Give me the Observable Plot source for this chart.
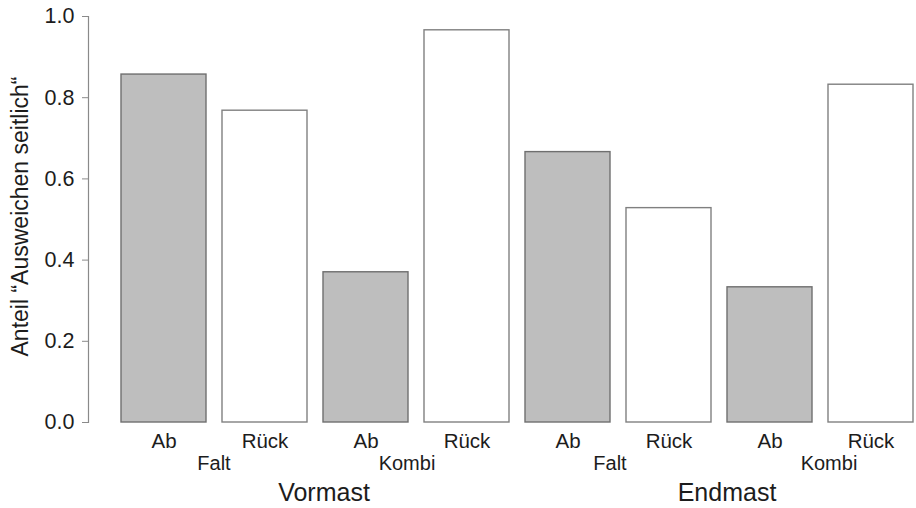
<!DOCTYPE html>
<html><head><meta charset="utf-8">
<script src="https://cdn.jsdelivr.net/npm/d3@7"></script>
<script src="https://cdn.jsdelivr.net/npm/@observablehq/plot@0.6"></script>
<style>
body{margin:0;background:#fff;}
#chart svg{font-family:"Liberation Sans",Arial,Helvetica,sans-serif;}
</style>
</head><body><div id="chart"></div>
<script>
const phases = ["Vormast","Vormast","Vormast","Vormast","Endmast","Endmast","Endmast","Endmast"];
const variants = ["Falt","Falt","Kombi","Kombi","Falt","Falt","Kombi","Kombi"];
const directions = ["Ab","Rück","Ab","Rück","Ab","Rück","Ab","Rück"];
const values = [0.857, 0.768, 0.370, 0.966, 0.666, 0.528, 0.333, 0.832];
const yTicks = [0, 0.2, 0.4, 0.6, 0.8, 1.0];
const yTitle = "Anteil “Ausweichen seitlich“";

const ids = values.map((_, i) => `${phases[i]} ${variants[i]} ${directions[i]}`);
const data = values.map((v, i) => ({id: ids[i], phase: phases[i], variant: variants[i], dir: directions[i], value: v}));
const dirOf = new Map(data.map(d => [d.id, d.dir]));

const ink = "#1c1c1c";
const font = "Liberation Sans, Arial, sans-serif";

function label(text, anchorIndex, dx, dy, size) {
  return Plot.text([text], {x: [ids[anchorIndex]], text: d => d, frameAnchor: "bottom", dx, dy, fontSize: size, fill: ink});
}

const chart = Plot.plot({
  width: 916,
  height: 508,
  marginLeft: 88,
  marginRight: 3,
  marginTop: 16,
  marginBottom: 86,
  style: {fontFamily: font, background: "#fff", color: ink},
  x: {domain: ids, paddingInner: 0.161, paddingOuter: 0, insetLeft: 32, label: null},
  y: {domain: [0, 1], label: null},
  marks: [
    Plot.barY(data.filter(d => d.dir === "Ab"), {x: "id", y: "value", fill: "#bebebe", stroke: "#6f6f6f", strokeWidth: 1.4}),
    Plot.barY(data.filter(d => d.dir === "Rück"), {x: "id", y: "value", fill: "#ffffff", stroke: "#808080", strokeWidth: 1.4}),
    Plot.frame({anchor: "left", stroke: "#8a8a8a", strokeWidth: 1.2}),
    Plot.axisY({ticks: yTicks, tickFormat: d3.format(".1f"), tickSize: 6, tickPadding: 8, fontSize: 21.5, stroke: "#8a8a8a", fill: ink, label: null}),
    Plot.axisX({tickSize: 0, tickPadding: 11, fontSize: 20.5, fill: ink, tickFormat: d => dirOf.get(d), label: null}),
    label("Falt", 1, -51, 47, 20),
    label("Kombi", 3, -60, 47, 20),
    label("Falt", 5, -59, 47, 20),
    label("Kombi", 7, -42, 47, 20),
    label("Vormast", 2, -42, 78, 25),
    label("Endmast", 6, -43, 78, 25),
    Plot.text([yTitle], {frameAnchor: "left", textAnchor: "middle", rotate: -90, dx: -68, dy: -3, fontSize: 23, fill: ink, text: d => d})
  ]
});
document.getElementById("chart").appendChild(chart);
</script>
</body></html>
